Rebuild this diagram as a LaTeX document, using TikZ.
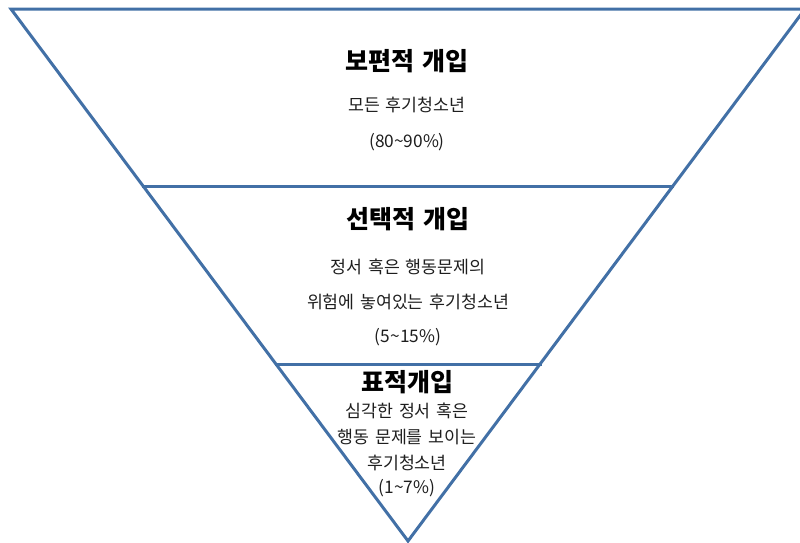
\documentclass[tikz,border=0pt]{standalone}
\usepackage{fontspec}
\newfontfamily\kr[WordSpace=1.4]{Noto Sans CJK KR}
\definecolor{tri}{RGB}{66,112,166}
\definecolor{txt}{RGB}{30,30,30}
\begin{document}
\begin{tikzpicture}[x=1pt,y=-1pt,
  edge/.style={draw=tri,line width=3pt},
  title/.style={font=\kr\bfseries\fontsize{25}{30}\selectfont,text=black,inner sep=0pt},
  body/.style={font=\kr\fontsize{17.3}{20}\selectfont,text=txt,inner sep=0pt}]
\useasboundingbox (0,0) rectangle (800,542);
\clip (0,0) rectangle (800,542);
\coordinate (tl) at (11,9);
\coordinate (tr) at (805,9);
\coordinate (ap) at (408,541);
\coordinate (l1) at (142,186);
\coordinate (r1) at (674,186);
\coordinate (l2) at (275,364);
\coordinate (r2) at (542,364);
\draw[edge,line join=miter] (tl) -- (tr) -- (ap) -- cycle;
\draw[edge] (l1) -- (r1);
\draw[edge] (l2) -- (r2);
\node[title] (t1) at (407,61) {보편적 개입};
\node[body] (b1) at (407,105) {모든 후기청소년};
\node[body] (p1) at (407,142) {(80\textasciitilde 90\%)};
\node[title] (t2) at (408,219) {선택적 개입};
\node[body] (b2) at (408,267) {정서 혹은 행동문제의};
\node[body] (b3) at (408,302) {위험에 놓여있는 후기청소년};
\node[body] (p2) at (408,337) {(5\textasciitilde 15\%)};
\node[title] (t3) at (407,382) {표적개입};
\node[body] (b4) at (407,411) {심각한 정서 혹은};
\node[body] (b5) at (407,437) {행동 문제를 보이는};
\node[body] (b6) at (407,463) {후기청소년};
\node[body] (p3) at (407,488) {(1\textasciitilde 7\%)};
\end{tikzpicture}
\end{document}
